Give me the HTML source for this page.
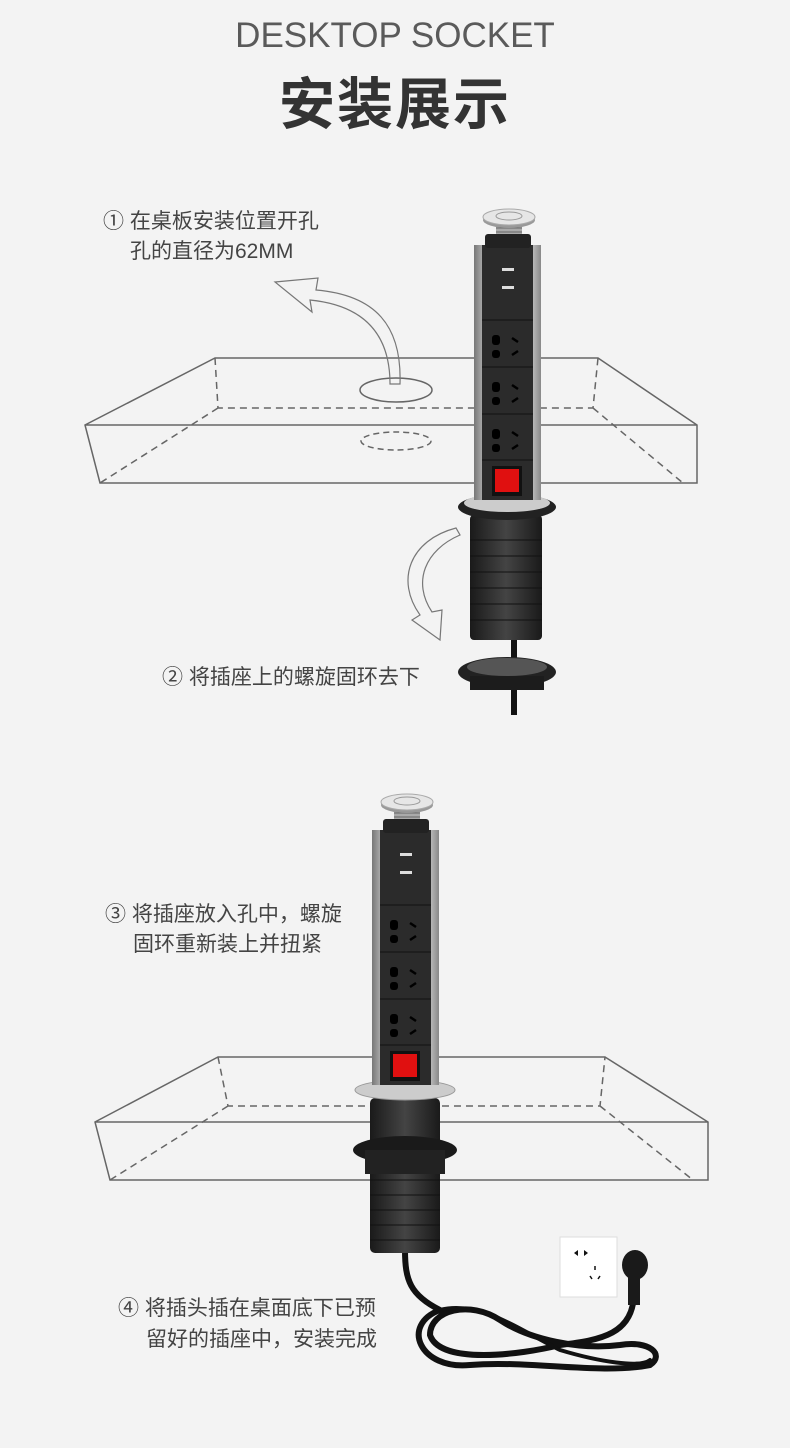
<!DOCTYPE html>
<html><head><meta charset="utf-8"><style>
html,body{margin:0;padding:0;background:#f3f3f3;}
body{width:790px;height:1448px;position:relative;overflow:hidden;font-family:"Liberation Sans","Noto Sans CJK SC",sans-serif;}
.t{position:absolute;color:#444;font-size:21px;line-height:30px;white-space:nowrap;}
</style></head><body>
<div class="t" style="left:0;width:790px;text-align:center;top:14px;font-size:35px;line-height:44px;color:#5a5a5a;">DESKTOP SOCKET</div>
<div class="t" style="left:0;width:790px;text-align:center;top:70px;font-size:56px;line-height:70px;color:#333;font-weight:bold;letter-spacing:2px;">安装展示</div>
<div class="t" style="left:103px;top:207px;">① 在桌板安装位置开孔</div>
<div class="t" style="left:130px;top:237px;">孔的直径为62MM</div>
<div class="t" style="left:162px;top:663px;">② 将插座上的螺旋固环去下</div>
<div class="t" style="left:105px;top:900px;">③ 将插座放入孔中，螺旋</div>
<div class="t" style="left:133px;top:930px;">固环重新装上并扭紧</div>
<div class="t" style="left:118px;top:1294px;">④ 将插头插在桌面底下已预</div>
<div class="t" style="left:146px;top:1325px;">留好的插座中，安装完成</div>
<svg width="790" height="1448" style="position:absolute;left:0;top:0" xmlns="http://www.w3.org/2000/svg">
<defs>
<linearGradient id="sil" x1="0" x2="1"><stop offset="0" stop-color="#777"/><stop offset=".3" stop-color="#eee"/><stop offset=".7" stop-color="#fff"/><stop offset="1" stop-color="#888"/></linearGradient>
<linearGradient id="blk" x1="0" x2="1"><stop offset="0" stop-color="#1a1a1a"/><stop offset=".5" stop-color="#444"/><stop offset="1" stop-color="#1a1a1a"/></linearGradient>
<g id="sock">
 <rect x="0" y="35" width="67" height="255" fill="url(#sil)"/>
 <rect x="8" y="35" width="51" height="255" fill="#2b2b2b"/>
 <rect x="22" y="10" width="26" height="16" fill="#aaa"/>
 <path d="M22 14h26M22 18h26M22 22h26" stroke="#666"/>
 <ellipse cx="35" cy="10" rx="26" ry="8" fill="#999"/>
 <ellipse cx="35" cy="7" rx="26" ry="8" fill="#e6e6e6" stroke="#aaa"/>
 <ellipse cx="35" cy="6" rx="13" ry="4" fill="none" stroke="#999"/>
 <rect x="11" y="24" width="46" height="14" rx="3" fill="#222"/>
 <rect x="28" y="58" width="12" height="3" fill="#ddd"/><rect x="28" y="76" width="12" height="3" fill="#ddd"/>
 <line x1="8" y1="110" x2="59" y2="110" stroke="#111"/><line x1="8" y1="157" x2="59" y2="157" stroke="#111"/><line x1="8" y1="204" x2="59" y2="204" stroke="#111"/><line x1="8" y1="250" x2="59" y2="250" stroke="#111"/>
 <g fill="#000"><rect x="18" y="125" width="8" height="10" rx="3"/><rect x="18" y="140" width="8" height="8" rx="3"/><rect x="18" y="172" width="8" height="10" rx="3"/><rect x="18" y="187" width="8" height="8" rx="3"/><rect x="18" y="219" width="8" height="10" rx="3"/><rect x="18" y="234" width="8" height="8" rx="3"/></g>
 <g stroke="#000" stroke-width="2.5"><path d="M38 128l6 4M38 145l6-4M38 175l6 4M38 192l6-4M38 222l6 4M38 239l6-4"/></g>
 <rect x="18" y="256" width="30" height="30" fill="#111"/><rect x="21" y="259" width="24" height="23" fill="#e01010"/>
</g>
</defs>
<g fill="none" stroke="#666" stroke-width="1.5">
 <path d="M215 358H598L697 425V483H100L85 425Z M85 425H697"/>
 <path d="M215 358L218 408H593L598 358 M218 408L100 483 M593 408L683 483" stroke-dasharray="7 5"/>
 <ellipse cx="396" cy="390" rx="36" ry="12"/>
 <ellipse cx="396" cy="441" rx="35" ry="9" stroke-dasharray="6 4"/>
 <path d="M390 384C390 330 360 305 310 300L312 312 275 282 318 278 316 290C375 295 402 325 400 384Z" stroke="#777" stroke-width="1.2"/>
 <path d="M456 528C410 540 395 580 420 615L412 620 440 640 442 610 432 612C412 582 425 550 460 535Z" stroke="#777" stroke-width="1.2"/>
 <path d="M218 1057H605L708 1122V1180H110L95 1122Z M95 1122H708"/>
 <path d="M218 1057L228 1106H600L605 1057 M228 1106L110 1180 M600 1106L693 1180" stroke-dasharray="7 5"/>
</g>
<!-- socket 1 -->
<rect x="470" y="515" width="72" height="125" rx="4" fill="url(#blk)"/>
<g stroke="#111" stroke-width="1"><path d="M470 540h72M470 556h72M470 572h72M470 588h72M470 604h72M470 620h72"/></g>
<ellipse cx="507" cy="507" rx="49" ry="13" fill="#222"/><ellipse cx="507" cy="503" rx="43" ry="9" fill="#ccc"/>
<rect x="511" y="640" width="6" height="75" fill="#111"/>
<use href="#sock" x="474" y="210"/>
<ellipse cx="507" cy="672" rx="49" ry="15" fill="#222"/><ellipse cx="507" cy="667" rx="40" ry="9" fill="#555"/>
<rect x="470" y="676" width="74" height="14" fill="#1c1c1c"/>
<!-- socket 2 -->
<g fill="none" stroke="#111" stroke-width="6" stroke-linecap="round">
<path d="M405 1250C405 1280 410 1295 440 1310C400 1325 420 1370 470 1365C530 1360 600 1375 650 1365C665 1355 650 1340 620 1345C580 1350 530 1340 500 1320C470 1300 430 1310 430 1335C440 1365 520 1355 560 1345C600 1340 635 1335 634 1290"/>
<path d="M440 1310C480 1300 520 1330 560 1350C600 1362 640 1368 650 1360" stroke-width="4"/>
</g>
<rect x="370" y="1098" width="70" height="155" rx="5" fill="url(#blk)"/>
<g stroke="#111"><path d="M370 1180h70M370 1195h70M370 1210h70M370 1225h70M370 1240h70"/></g>
<ellipse cx="405" cy="1090" rx="50" ry="10" fill="#ccc" stroke="#999"/>
<use href="#sock" x="372" y="795"/>
<ellipse cx="405" cy="1150" rx="52" ry="14" fill="#1a1a1a"/>
<rect x="365" y="1150" width="80" height="24" fill="#222"/>
<rect x="560" y="1237" width="57" height="60" fill="#fff" stroke="#ddd"/>
<path d="M574 1253l4-3v6zM584 1250l4 3-4 3z" fill="#111"/>
<path d="M595 1266v4M590 1276l2 3M600 1276l-2 3" stroke="#111" stroke-width="1.5"/>
<ellipse cx="635" cy="1265" rx="13" ry="15" fill="#1a1a1a"/>
<rect x="628" y="1275" width="12" height="30" fill="#1a1a1a"/>
</svg>
</body></html>
